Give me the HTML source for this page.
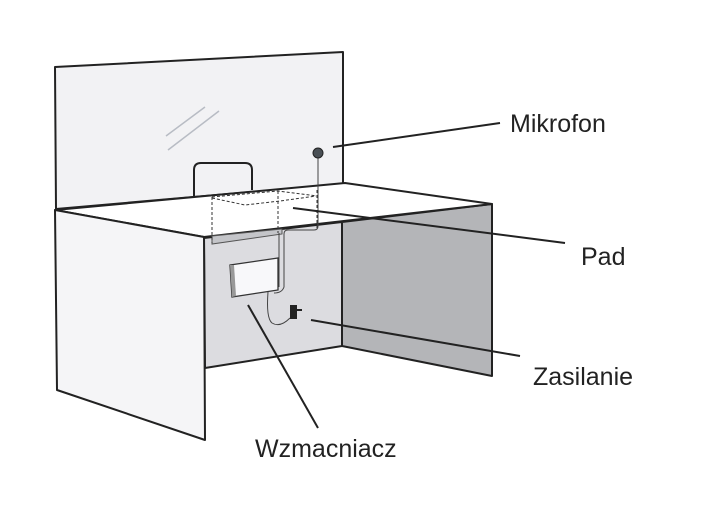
<!DOCTYPE html>
<html><head><meta charset="utf-8"><style>
html,body{margin:0;padding:0;background:#fff;width:705px;height:513px;overflow:hidden}
svg{display:block}
text{font-family:"Liberation Sans",sans-serif;font-size:25px;fill:#222}
</style></head><body>
<svg width="705" height="513" viewBox="0 0 705 513">
<g stroke="#222" stroke-width="2" stroke-linejoin="round">
<polygon points="55,67 343,52 343,184 56,209" fill="#f2f2f4"/>
<polygon points="204,238 342,222 342,346 205,368" fill="#dcdce0"/>
<polygon points="342,222 492,204 492,376 342,346" fill="#b4b5b8"/>
<polygon points="55,210 345,183 492,204 204,237" fill="#fff"/>
<polygon points="55,210 204,237 205,440 57,390" fill="#f5f5f7"/>
</g>
<path d="M194,196 V170 Q194,163 201,163 H245 Q252,163 252,170 V190" fill="none" stroke="#222" stroke-width="2"/>
<g stroke="#b8bcc4" stroke-width="1.5"><line x1="166" y1="136" x2="205" y2="107"/><line x1="168" y1="150" x2="219" y2="111"/></g>
<polygon points="212,236 282,229 282,234 212,244" fill="#c4c5c9" stroke="#555" stroke-width="1"/>
<g stroke="#333" stroke-width="1" stroke-dasharray="3,2" fill="none">
<line x1="212" y1="197" x2="212" y2="243"/><line x1="278" y1="191" x2="278" y2="233"/>
<line x1="317" y1="190" x2="317" y2="228"/><polyline points="212,198 245,205 280,201 316,196"/>
<polyline points="212,197 278,191 317,196"/>
</g>
<path d="M318,158 V226 Q318,230 314,230 H288 Q284,230 284,234 V287 Q282,293 274,293" fill="none" stroke="#444" stroke-width="1"/>
<path d="M279,233 V287" fill="none" stroke="#444" stroke-width="1"/>
<circle cx="318" cy="153" r="5" fill="#4a5055" stroke="#222" stroke-width="1"/>
<polygon points="230,265 278,258 278,290 232,297" fill="#f8f8fa" stroke="#333" stroke-width="1.3"/>
<polygon points="230,265 234,265 236,296 232,297" fill="#999"/>
<path d="M268,292 Q266,318 272,323 Q280,328 290,318" fill="none" stroke="#444" stroke-width="1"/>
<rect x="290" y="305" width="7" height="14" fill="#222"/><line x1="297" y1="310" x2="302" y2="310" stroke="#222" stroke-width="2"/>
<g stroke="#222" stroke-width="2">
<line x1="333" y1="147" x2="500" y2="123"/>
<line x1="293" y1="208" x2="565" y2="243"/>
<line x1="311" y1="320" x2="520" y2="356"/>
<line x1="248" y1="305" x2="318" y2="428"/>
</g>
<text x="510" y="132">Mikrofon</text>
<text x="581" y="265">Pad</text>
<text x="533" y="385">Zasilanie</text>
<text x="255" y="457">Wzmacniacz</text>
</svg>
</body></html>
